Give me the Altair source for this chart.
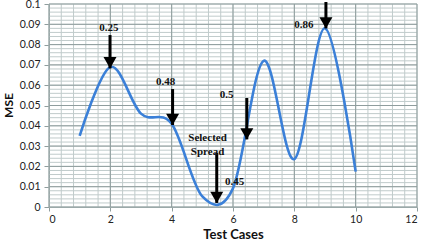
import altair as alt
import pandas as pd

# Curve data
test_cases = [1, 2, 3, 4, 5, 6, 7, 8, 9, 10]
mse = [0.035, 0.069, 0.046, 0.041, 0.0052, 0.0092, 0.072, 0.0236, 0.088, 0.0174]

# Arrow annotations
arrow_x = [1.99, 4.03, 5.47, 6.45, 9.03]
arrow_top = [0.0847, 0.0581, 0.0266, 0.0537, 0.101]
arrow_tip = [0.0683, 0.0404, 0.0020, 0.0333, 0.088]

# Text annotations
label_text = ["0.25", "0.48", "Selected", "Spread", "0.45", "0.5", "0.86"]
label_x = [1.95, 3.80, 5.17, 5.17, 6.05, 5.79, 8.31]
label_y = [0.088, 0.0616, 0.034, 0.0272, 0.0121, 0.0552, 0.0895]

# Axis ticks / grid positions
x_major = [0, 2, 4, 6, 8, 10, 12]
y_major = [round(i * 0.01, 3) for i in range(11)]
x_minor = [round(i * 0.4, 2) for i in range(31)]
y_minor = [round(i * 0.002, 3) for i in range(51)]

MAJOR = "#8f9d9d"
MINOR = "#c0cbcb"
BLUE = "#3b80d8"

curve = pd.DataFrame({"x": test_cases, "y": mse})
arrows = pd.DataFrame({"x": arrow_x, "top": arrow_top, "tip": arrow_tip})
labels = pd.DataFrame({"x": label_x, "y": label_y, "t": label_text})

xs = alt.Scale(domain=[0, 12], nice=False, zero=False)
ys = alt.Scale(domain=[0, 0.1], nice=False, zero=False)

x_axis = alt.Axis(
    values=x_major, grid=False, domainColor=MAJOR, labelOverlap=False,
    tickColor=MAJOR, tickSize=4, labelPadding=3, title="Test Cases",
    titleFont="Lato", titleFontSize=13, titleFontWeight="bold", titleColor="#111",
    titleBaseline="middle", titleY=27)
y_axis = alt.Axis(
    values=y_major, grid=False, domainColor=MAJOR, labelOverlap=False,
    tickColor=MAJOR, tickSize=5, labelPadding=4, title="MSE",
    labelExpr="format(datum.value, '.2~f')",
    titleFont="Lato", titleFontSize=12, titleFontWeight="bold", titleColor="#111",
    titleBaseline="middle", titleX=-41, titleY=101)


def X(field):
    return alt.X(field, type="quantitative", scale=xs, axis=x_axis)


def Y(field):
    return alt.Y(field, type="quantitative", scale=ys, axis=y_axis)


vminor = alt.Chart(pd.DataFrame({"x": x_minor})).mark_rule(color=MINOR, strokeWidth=1).encode(
    x=X("x"))
hminor = alt.Chart(pd.DataFrame({"y": y_minor})).mark_rule(color=MINOR, strokeWidth=1).encode(
    y=Y("y"))
vmajor = alt.Chart(pd.DataFrame({"x": x_major})).mark_rule(color=MAJOR, strokeWidth=1).encode(
    x=X("x"))
hmajor = alt.Chart(pd.DataFrame({"y": y_major})).mark_rule(color=MAJOR, strokeWidth=1).encode(
    y=Y("y"))

line = alt.Chart(curve).mark_line(interpolate="cardinal", tension=0, color=BLUE,
                                  strokeWidth=2.6).encode(x=X("x"), y=Y("y"))

shafts = alt.Chart(arrows).mark_rule(color="black", strokeWidth=3).encode(
    x=X("x"), y=Y("top"), y2=alt.Y2("tip:Q")
)
heads = alt.Chart(arrows).mark_point(shape="triangle-down", filled=True, size=169,
                                     color="black", opacity=1, yOffset=-5.6).encode(
    x=X("x"), y=Y("tip")
)
texts = alt.Chart(labels).mark_text(font="Liberation Serif", fontWeight="bold",
                                    fontSize=11, color="#111", align="center",
                                    baseline="middle").encode(
    x=X("x"), y=Y("y"), text="t:N"
)

chart = alt.layer(vminor, hminor, vmajor, hmajor, line, shafts, heads, texts).properties(
    width=368, height=203,
    autosize=alt.AutoSizeParams(type="none"),
    padding={"left": 49, "top": 4, "right": 8, "bottom": 33},
).configure_axis(
    labelFont="Lato", labelFontSize=10.5, labelColor="#222"
).configure_view(stroke=None)

chart.save("out.html", embed_options={"renderer": "svg", "actions": False})
